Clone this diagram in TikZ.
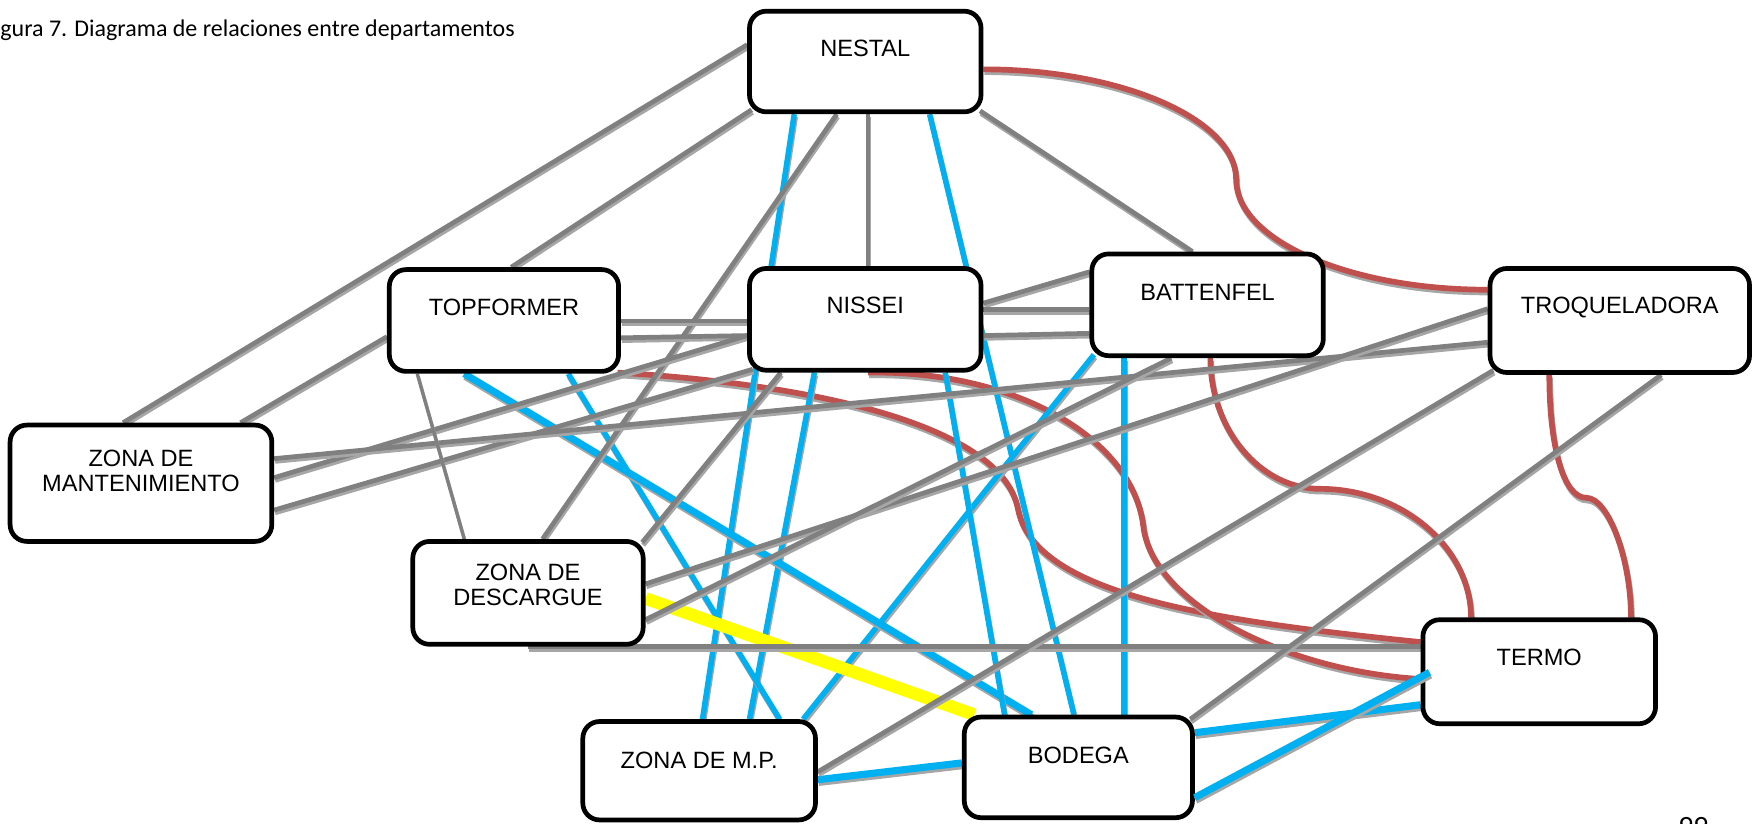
\documentclass[tikz,border=0pt]{standalone}
\usepackage{fontspec}
\setmainfont{Liberation Sans}
\newfontfamily\capfont{Carlito}
\usetikzlibrary{calc}
\pgfdeclarelayer{background}
\pgfsetlayers{background,main}
\definecolor{lgray}{RGB}{128,128,128}
\definecolor{sgray}{RGB}{166,166,166}
\definecolor{lblue}{RGB}{0,176,240}
\definecolor{lred}{RGB}{192,80,77}
\definecolor{lyellow}{RGB}{255,255,0}
\begin{document}
\begin{tikzpicture}[x=0.02cm,y=-0.02cm,
  box/.style={draw=black, line width=2.4pt, rounded corners=0.3cm, fill=white, inner sep=0pt},
  lbl/.style={font=\fontsize{12pt}{13pt}\selectfont, align=center, inner sep=0pt},
  shad/.style={preaction={draw=sgray, line width=#1, transform canvas={shift={(0.5pt,-1.4pt)}}}},
  gline/.style={draw=lgray, line width=2.4pt, shad=2.4pt},
  gthin/.style={draw=lgray, line width=1.7pt, shad=1.7pt},
  gthick/.style={draw=lgray, line width=2.9pt, shad=2.9pt},
  bline/.style={draw=lblue, line width=2.8pt, shad=2.8pt},
  bthick/.style={draw=lblue, line width=3.6pt, shad=3.6pt},
  rline/.style={draw=lred, line width=2.9pt, shad=2.9pt},
  yline/.style={draw=lyellow, line width=6.4pt},
]
\useasboundingbox (0,0) rectangle (1568,736);

% boxes
\node[box, minimum width=4.14cm, minimum height=1.80cm] (nestal) at (773.5,55) {};
\node[box, minimum width=4.10cm, minimum height=1.82cm] (topformer) at (450.5,286.5) {};
\node[box, minimum width=4.14cm, minimum height=1.82cm] (nissei) at (773.5,285.5) {};
\node[box, minimum width=4.14cm, minimum height=1.82cm] (battenfel) at (1079.5,272.5) {};
\node[box, minimum width=4.64cm, minimum height=1.86cm] (troqueladora) at (1448,286.5) {};
\node[box, minimum width=4.68cm, minimum height=2.08cm] (mant) at (126,432) {};
\node[box, minimum width=4.12cm, minimum height=1.84cm] (descargue) at (472,530) {};
\node[box, minimum width=4.16cm, minimum height=1.76cm] (mp) at (625,689) {};
\node[box, minimum width=4.08cm, minimum height=1.80cm] (bodega) at (964,686) {};
\node[box, minimum width=4.16cm, minimum height=1.86cm] (termo) at (1376,600.5) {};

% labels
\node[lbl] (nestal-t) at (773.5,43) {NESTAL};
\node[lbl] (topformer-t) at (450.5,275) {TOPFORMER};
\node[lbl] (nissei-t) at (773.5,273) {NISSEI};
\node[lbl] (battenfel-t) at (1079.5,261) {BATTENFEL};
\node[lbl] (troqueladora-t) at (1448,275) {TROQUELADORA};
\node[lbl] (mant-t) at (126,421) {ZONA DE\\MANTENIMIENTO};
\node[lbl] (descargue-t) at (472,523) {ZONA DE\\DESCARGUE};
\node[lbl] (mp-t) at (625,679.5) {ZONA DE M.P.};
\node[lbl] (bodega-t) at (964,675) {BODEGA};
\node[lbl] (termo-t) at (1376,588) {TERMO};

\node[font=\capfont\fontsize{12.2pt}{14pt}\selectfont, anchor=base west, inner sep=0pt] (caption) at (0,33) {gura 7. Diagrama de relaciones entre departamentos};
\node[font=\capfont\fontsize{15pt}{17pt}\selectfont, anchor=north west, inner sep=0pt] (pageno) at (1500,730) {99};

\begin{pgfonlayer}{background}
% red connectors
\draw[rline] (nestal.east |- 0,62) .. controls (1003,62) and (1105,107) .. (1105,160) .. controls (1105,215) and (1206,259) .. (troqueladora.west |- 0,259);
\draw[rline] ([shift={(-3,-1)}]topformer.south east) .. controls (750,345) and (897,386) .. (910,455) .. controls (925,530) and (1073,554) .. (termo.west |- 0,574);
\draw[rline] (nissei.south -| 776,0) .. controls (911,331) and (1013,394) .. (1022,470) .. controls (1030,540) and (1150,600) .. (termo.west |- 0,607);
\draw[rline] (battenfel.south -| 1082,0) .. controls (1082,383) and (1126,437) .. (1180,437) .. controls (1254,437) and (1315,490) .. (termo.north -| 1315,0);
\draw[rline] (troqueladora.south -| 1385,0) .. controls (1385,400) and (1398,445) .. (1418,445) .. controls (1438,445) and (1458,500) .. (termo.north -| 1458,0);

% blue connectors
\draw[bline] (nestal.south -| 710,0) -- (mp.north -| 628,0);
\draw[bline] (nestal.south -| 831,0) -- (bodega.north -| 960,0);
\draw[bline] (nissei.south -| 728,0) -- (mp.north -| 670,0);
\draw[bline] (topformer.south -| 508,0) -- (mp.north -| 697,0);
\draw[bline] ([shift={(4,-3)}]battenfel.south west) -- (mp.north -| 718,0);
\draw[bthick] (topformer.south -| 415,0) -- (bodega.north -| 922,0);
\draw[bline] (nissei.south -| 845,0) -- (bodega.north -| 898,0);
\draw[bline] (battenfel.south -| 1005,0) -- (bodega.north -| 1005,0);
\draw[bthick] (mp.east |- 0,697) -- (bodega.west |- 0,682);
\draw[bthick] (bodega.east |- 0,655) -- (termo.west |- 0,630);

% yellow connector
\draw[yline] (descargue.east |- 0,535) -- ([shift={(11,0)}]bodega.north west);

% gray connectors
\draw[gline] (nestal.west |- 0,40) -- (mant.north -| 110,0);
\draw[gline] ([shift={(4,-4)}]nestal.south west) -- (topformer.north -| 457,0);
\draw[gline] (nestal.south -| 748,0) -- (descargue.north -| 485,0);
\draw[gthin] (nestal.south -| 776,0) -- (nissei.north -| 776,0);
\draw[gline] ([shift={(-3,-3)}]nestal.south east) -- (battenfel.north -| 1066,0);
\draw[gline] (topformer.west |- 0,301) -- (mant.north -| 215,0);
\draw[gline] (topformer.east |- 0,287) -- (nissei.west |- 0,287);
\draw[gline] (topformer.east |- 0,302) -- (nissei.west |- 0,300);
\draw[gline] (nissei.west |- 0,300) -- (mant.east |- 0,427);
\draw[gline] ([shift={(5,-3)}]nissei.south west) -- (mant.east |- 0,456);
\draw[gline] (mant.east |- 0,410) -- (troqueladora.west |- 0,306);
\draw[gline] (nissei.east |- 0,271) -- (battenfel.west |- 0,243);
\draw[gline] (nissei.east |- 0,277) -- (battenfel.west |- 0,277);
\draw[gline] (nissei.east |- 0,300) -- (battenfel.west |- 0,298);
\draw[gthin] (topformer.south -| 373,0) -- (descargue.north -| 415,0);
\draw[gline] (nissei.south -| 698,0) -- ([shift={(-3,3)}]descargue.north east);
\draw[gline] (descargue.east |- 0,522) -- (troqueladora.west |- 0,276);
\draw[gline] (descargue.east |- 0,554) -- (battenfel.south -| 1047,0);
\draw[gthick] (descargue.south |- 0,578) -- (termo.west |- 0,578);
\draw[gline] ([shift={(5,-4)}]troqueladora.south west) -- (mp.east |- 0,690);
\draw[gline] (troqueladora.south -| 1485,0) -- ([shift={(-4,4)}]bodega.north east);
\end{pgfonlayer}

% blue connector drawn over the TERMO border
\draw[bthick] (bodega.east |- 0,713) -- ($(termo.west |- 0,601)+(8,0)$);
\end{tikzpicture}
\end{document}
